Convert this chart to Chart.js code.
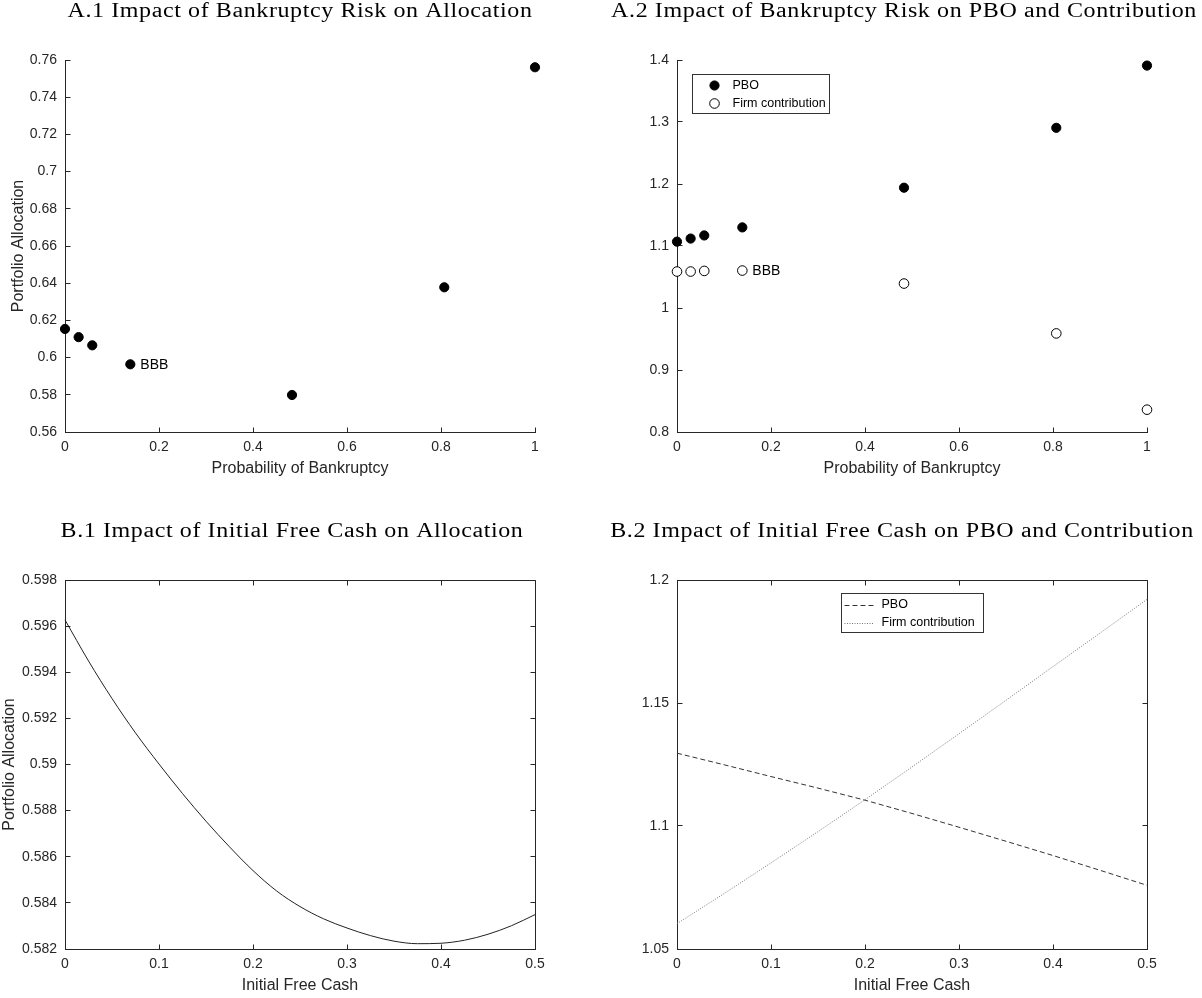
<!DOCTYPE html>
<html>
<head>
<meta charset="utf-8">
<title>Bankruptcy risk and free cash</title>
<script src="https://cdn.jsdelivr.net/npm/chart.js@4.4.1/dist/chart.umd.min.js"></script>
<style>
  html, body { margin: 0; padding: 0; background: #fff; }
  #page { position: relative; width: 1202px; height: 998px; }
  #page canvas { position: absolute; }
</style>
</head>
<body>
<div id="page">
  <canvas id="a1" width="601" height="499" style="left:0;top:0"></canvas>
  <canvas id="a2" width="601" height="499" style="left:601px;top:0"></canvas>
  <canvas id="b1" width="601" height="499" style="left:0;top:499px"></canvas>
  <canvas id="b2" width="601" height="499" style="left:601px;top:499px"></canvas>
</div>
<script>
// Panel A: bankruptcy probability scenarios (BBB is the 4th point)
const bankruptcyProb = [0, 0.029, 0.058, 0.139, 0.483, 0.807, 1.0];
const allocationA = [0.6154, 0.611, 0.6066, 0.5964, 0.5799, 0.6378, 0.7561];
const pboA = [1.107, 1.112, 1.117, 1.130, 1.194, 1.2906, 1.391];
const contributionA = [1.0588, 1.0588, 1.0598, 1.0604, 1.0394, 0.959, 0.836];
const bbbIndex = 3;

// Panel B: initial free cash
const freeCash = [0, 0.025, 0.05, 0.075, 0.1, 0.125, 0.15, 0.175, 0.2, 0.225, 0.25,
                  0.275, 0.3, 0.325, 0.35, 0.375, 0.4, 0.425, 0.45, 0.475, 0.5];
const allocationB = [0.59627, 0.59449, 0.59286, 0.59137, 0.59002, 0.58874, 0.58754,
                     0.58643, 0.58540, 0.58452, 0.58384, 0.58331, 0.58291, 0.58258,
                     0.58234, 0.58223, 0.58225, 0.58238, 0.58264, 0.58301, 0.58349];
const freeCashB2 = [0, 0.05, 0.1, 0.15, 0.2, 0.25, 0.3, 0.35, 0.4, 0.45, 0.5];
const pboB = [1.1296, 1.1249, 1.1201, 1.1154, 1.1105, 1.1051, 1.0995, 1.0938, 1.0880, 1.0820, 1.0759];
const contributionB = [1.0603, 1.0725, 1.0850, 1.0977, 1.1107, 1.1240, 1.1375, 1.1511, 1.1648, 1.1784, 1.1921];

// tick values
const probTicks = [0, 0.2, 0.4, 0.6, 0.8, 1];
const allocTicksA = [0.56, 0.58, 0.6, 0.62, 0.64, 0.66, 0.68, 0.7, 0.72, 0.74, 0.76];
const pboTicksA = [0.8, 0.9, 1, 1.1, 1.2, 1.3, 1.4];
const cashTicks = [0, 0.1, 0.2, 0.3, 0.4, 0.5];
const allocTicksB = [0.582, 0.584, 0.586, 0.588, 0.59, 0.592, 0.594, 0.596, 0.598];
const pboTicksB = [1.05, 1.1, 1.15, 1.2];

const AXIS = '#262626';
const SANS = '"Liberation Sans", Arial, Helvetica, sans-serif';
const SERIF = '"Liberation Serif", "Times New Roman", serif';
const TICK_LEN = 5;

const xy = (xs, ys) => xs.map((x, i) => ({ x: x, y: ys[i] }));
const fmt = v => String(+Number(v).toFixed(4));
const al = p => Math.round(p - 0.5) + 0.5;

function linearAxis(tickValues, o) {
  return {
    type: 'linear',
    min: tickValues[0],
    max: tickValues[tickValues.length - 1],
    afterBuildTicks: scale => { scale.ticks = tickValues.map(v => ({ value: v })); },
    afterFit: scale => {
      if (scale.isHorizontal()) scale.height = o.size; else scale.width = o.size;
    },
    grid: { display: false, drawTicks: false },
    border: { display: true, color: AXIS, width: 1 },
    ticks: {
      color: AXIS, font: { family: SANS, size: 14 }, padding: o.pad,
      autoSkip: false, maxRotation: 0, callback: v => fmt(v)
    },
    title: o.title
      ? { display: true, text: o.title, color: AXIS, font: { family: SANS, size: 16 }, padding: o.titlePad }
      : { display: false }
  };
}

// inward ticks, optional box, panel title, boxed legend and point note
const matlabStyle = {
  id: 'matlabStyle',
  beforeDatasetsDraw(chart, args, o) {
    const { ctx, chartArea: a, scales: { x, y } } = chart;
    const L = al(a.left), R = al(a.right), T = al(a.top), B = al(a.bottom);
    ctx.save();
    ctx.strokeStyle = AXIS;
    ctx.lineWidth = 1;
    ctx.beginPath();
    if (o.box) {
      ctx.moveTo(L, T); ctx.lineTo(R, T); ctx.lineTo(R, B);
    }
    x.ticks.forEach(t => {
      const px = al(x.getPixelForValue(t.value));
      ctx.moveTo(px, B); ctx.lineTo(px, B - TICK_LEN);
      if (o.box) { ctx.moveTo(px, T); ctx.lineTo(px, T + TICK_LEN); }
    });
    y.ticks.forEach(t => {
      const py = al(y.getPixelForValue(t.value));
      ctx.moveTo(L, py); ctx.lineTo(L + TICK_LEN, py);
      if (o.box) { ctx.moveTo(R, py); ctx.lineTo(R - TICK_LEN, py); }
    });
    ctx.stroke();
    ctx.restore();
  },
  afterDraw(chart, args, o) {
    const { ctx, chartArea: a } = chart;

    // title, set wide like the LaTeX roman face
    ctx.save();
    ctx.fillStyle = '#000';
    ctx.font = '20px ' + SERIF;
    ctx.textAlign = 'center';
    ctx.textBaseline = 'middle';
    ctx.letterSpacing = '0.5px';
    const tx = o.titleX !== undefined ? o.titleX : (a.left + a.right) / 2;
    ctx.translate(tx, o.titleY);
    ctx.scale(1.2, 1);
    ctx.fillText(o.title, 0, 0);
    ctx.restore();

    ctx.save();
    // note next to one point
    if (o.note) {
      const el = chart.getDatasetMeta(o.note.dataset).data[o.note.index];
      ctx.fillStyle = '#000';
      ctx.font = '14px ' + SANS;
      ctx.textAlign = 'left';
      ctx.textBaseline = 'middle';
      ctx.fillText(o.note.text, el.x + o.note.dx, el.y + o.note.dy);
    }

    // legend
    if (o.legend) {
      const lg = o.legend;
      const bx = Math.round(a.left + lg.x) + 0.5, by = Math.round(a.top + lg.y) + 0.5;
      ctx.fillStyle = '#fff';
      ctx.fillRect(bx, by, lg.w, lg.h);
      ctx.strokeStyle = '#333';
      ctx.lineWidth = 1;
      ctx.setLineDash([]);
      ctx.strokeRect(bx, by, lg.w, lg.h);
      ctx.font = '12.5px ' + SANS;
      ctx.textAlign = 'left';
      ctx.textBaseline = 'middle';
      chart.data.datasets.forEach((ds, i) => {
        const cy = by + lg.row0 + i * lg.rowGap;
        if (chart.config.type === 'scatter') {
          ctx.beginPath();
          ctx.arc(bx + lg.markX, cy, ds.pointRadius, 0, Math.PI * 2);
          ctx.fillStyle = ds.pointBackgroundColor;
          ctx.fill();
          ctx.lineWidth = ds.pointBorderWidth;
          ctx.strokeStyle = ds.pointBorderColor;
          ctx.stroke();
        } else {
          ctx.beginPath();
          ctx.setLineDash(ds.borderDash || []);
          ctx.strokeStyle = ds.borderColor;
          ctx.lineWidth = ds.borderWidth;
          ctx.moveTo(bx + lg.lineX0, Math.round(cy) + 0.5);
          ctx.lineTo(bx + lg.lineX1, Math.round(cy) + 0.5);
          ctx.stroke();
          ctx.setLineDash([]);
        }
        ctx.fillStyle = '#000';
        ctx.fillText(ds.label, bx + lg.textX, cy);
      });
    }
    ctx.restore();
  }
};
Chart.register(matlabStyle);

function baseOptions(pad, xScale, yScale, style) {
  return {
    responsive: false,
    animation: false,
    layout: { padding: pad },
    plugins: { legend: { display: false }, tooltip: { enabled: false }, matlabStyle: style },
    scales: { x: xScale, y: yScale }
  };
}

const filledDot = { pointRadius: 4.6, pointBackgroundColor: '#000', pointBorderColor: '#000', pointBorderWidth: 1, clip: false };
const openDot = { pointRadius: 4.8, pointBackgroundColor: '#fff', pointBorderColor: '#000', pointBorderWidth: 1, clip: false };

// A.1
new Chart(document.getElementById('a1'), {
  type: 'scatter',
  data: { datasets: [Object.assign({ label: 'Portfolio Allocation', data: xy(bankruptcyProb, allocationA) }, filledDot)] },
  options: baseOptions({ top: 60, right: 66, bottom: 0, left: 0 },
    linearAxis(probTicks, { size: 67, pad: 7, title: 'Probability of Bankruptcy', titlePad: { top: 0, bottom: 21 } }),
    linearAxis(allocTicksA, { size: 65, pad: 8, title: 'Portfolio Allocation', titlePad: { top: 9.4, bottom: 0 } }),
    { title: 'A.1 Impact of Bankruptcy Risk on Allocation', titleY: 12,
      note: { text: 'BBB', dataset: 0, index: bbbIndex, dx: 10, dy: 1 } })
});

// A.2
new Chart(document.getElementById('a2'), {
  type: 'scatter',
  data: { datasets: [
    Object.assign({ label: 'PBO', data: xy(bankruptcyProb, pboA) }, filledDot),
    Object.assign({ label: 'Firm contribution', data: xy(bankruptcyProb, contributionA) }, openDot)
  ] },
  options: baseOptions({ top: 60, right: 55, bottom: 0, left: 0 },
    linearAxis(probTicks, { size: 67, pad: 7, title: 'Probability of Bankruptcy', titlePad: { top: 0, bottom: 21 } }),
    linearAxis(pboTicksA, { size: 76, pad: 8 }),
    { title: 'A.2 Impact of Bankruptcy Risk on PBO and Contribution', titleY: 12, titleX: 303,
      note: { text: 'BBB', dataset: 1, index: bbbIndex, dx: 10, dy: 1 },
      legend: { x: 15, y: 14, w: 137, h: 39, row0: 11, rowGap: 18, markX: 22, textX: 40 } })
});

// B.1
new Chart(document.getElementById('b1'), {
  type: 'line',
  data: { datasets: [{
    label: 'Portfolio Allocation', data: xy(freeCash, allocationB),
    borderColor: '#222', borderWidth: 1, pointRadius: 0, cubicInterpolationMode: 'monotone', clip: false
  }] },
  options: baseOptions({ top: 81, right: 66, bottom: 0, left: 0 },
    linearAxis(cashTicks, { size: 49, pad: 7, title: 'Initial Free Cash', titlePad: { top: 0, bottom: 3 } }),
    linearAxis(allocTicksB, { size: 65, pad: 8, title: 'Portfolio Allocation', titlePad: { top: 0.4, bottom: 0 } }),
    { title: 'B.1 Impact of Initial Free Cash on Allocation', titleY: 33, titleX: 292, box: true })
});

// B.2
new Chart(document.getElementById('b2'), {
  type: 'line',
  data: { datasets: [
    { label: 'PBO', data: xy(freeCashB2, pboB), borderColor: '#333', borderWidth: 1,
      borderDash: [5, 3], pointRadius: 0, tension: 0 },
    { label: 'Firm contribution', data: xy(freeCashB2, contributionB), borderColor: '#777', borderWidth: 1,
      borderDash: [1, 1.5], pointRadius: 0, tension: 0 }
  ] },
  options: baseOptions({ top: 81, right: 55, bottom: 0, left: 0 },
    linearAxis(cashTicks, { size: 49, pad: 7, title: 'Initial Free Cash', titlePad: { top: 0, bottom: 3 } }),
    linearAxis(pboTicksB, { size: 76, pad: 8 }),
    { title: 'B.2 Impact of Initial Free Cash on PBO and Contribution', titleY: 33, titleX: 301, box: true,
      legend: { x: 164, y: 13, w: 142, h: 39, row0: 11, rowGap: 18, lineX0: 3, lineX1: 33, textX: 40 } })
});
</script>
</body>
</html>
